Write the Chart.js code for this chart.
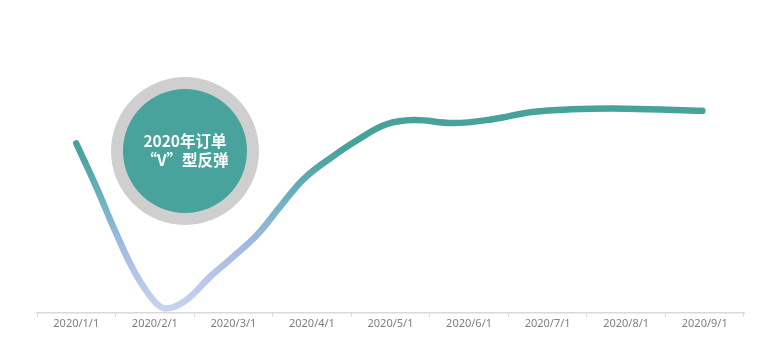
<!DOCTYPE html>
<html>
<head>
<meta charset="utf-8">
<script src="https://cdn.jsdelivr.net/npm/chart.js@4/dist/chart.umd.min.js"></script>
<style>
  html, body { margin: 0; padding: 0; background: #ffffff; }
  #wrap { position: relative; width: 760px; height: 356px; }
  #badgeOuter {
    position: absolute; left: 111px; top: 77px; width: 148px; height: 148px;
    border-radius: 50%; background: #d0cfcf;
  }
  #badgeInner {
    position: absolute; left: 123px; top: 89px; width: 124px; height: 124px;
    border-radius: 50%; background: #48a39d;
    display: flex; align-items: center; justify-content: center;
  }
  #badgeText {
    color: #ffffff; font-family: "Noto Sans CJK SC", "Noto Sans", sans-serif;
    font-weight: bold; font-size: 15.5px; line-height: 19px; text-align: center;
    margin-top: -2px;
  }
</style>
</head>
<body>
<div id="wrap">
  <canvas id="c" width="760" height="356"></canvas>
  <div id="badgeOuter"></div>
  <div id="badgeInner"><div id="badgeText">2020年订单<br>“V”型反弹</div></div>
</div>
<script>
// Month labels on the category axis
const monthLabels = ["2020/1/1","2020/2/1","2020/3/1","2020/4/1","2020/5/1","2020/6/1","2020/7/1","2020/8/1","2020/9/1"];
// Sample positions, in months since 2020/1/1
const sampleMonths = [0, 0.25, 0.5, 0.75, 1.0, 1.15, 1.4, 1.7, 2.0, 2.3, 2.6, 2.9, 3.25, 3.6, 3.95, 4.3, 4.8, 5.3, 5.8, 6.3, 7.0, 7.97];
// Order index values
const orderValues  = [56.5, 42.3, 27.0, 13.3, 3.7, 1.5, 4.3, 12.0, 18.8, 26.0, 35.6, 44.8, 51.9, 58.0, 62.9, 64.3, 63.3, 64.6, 67.0, 67.9, 68.1, 67.4];

const points = sampleMonths.map((m, i) => ({ x: m, y: orderValues[i] }));

function lineGradient(context) {
  const chart = context.chart;
  const area = chart.chartArea;
  if (!area) return '#48a39d';
  const ys = chart.scales.y;
  const top = ys.getPixelForValue(55);
  const bottom = ys.getPixelForValue(1);
  const g = chart.ctx.createLinearGradient(0, top, 0, bottom);
  g.addColorStop(0, '#47a29c');
  g.addColorStop(0.3, '#6cb0be');
  g.addColorStop(0.62, '#a5bbe2');
  g.addColorStop(1, '#c8d3ef');
  return g;
}

new Chart(document.getElementById('c'), {
  type: 'line',
  data: {
    labels: monthLabels,
    datasets: [{
      data: points,
      xAxisID: 'xl',
      yAxisID: 'y',
      borderColor: lineGradient,
      borderWidth: 6.5,
      borderCapStyle: 'round',
      borderJoinStyle: 'round',
      pointRadius: 0,
      fill: false,
      tension: 0.4
    }]
  },
  options: {
    responsive: false,
    animation: false,
    events: [],
    layout: { padding: { left: 37, right: 16, top: 13, bottom: 25.8 } },
    plugins: { legend: { display: false }, tooltip: { enabled: false } },
    scales: {
      x: {
        type: 'category',
        position: 'bottom',
        offset: true,
        grid: { offset: true, drawOnChartArea: false, drawTicks: true, tickLength: 4, color: '#d9d9d9', lineWidth: 1 },
        border: { display: true, color: '#d9d9d9', width: 1.5 },
        ticks: { color: '#7f7f7f', padding: 0, maxRotation: 0, autoSkip: false,
                 font: { family: '"Noto Sans", sans-serif', size: 11 } }
      },
      xl: {
        type: 'linear', position: 'bottom', display: false, min: -0.5, max: 8.5
      },
      y: {
        type: 'linear', display: false, min: 0, max: 100
      }
    }
  }
});
</script>
</body>
</html>
